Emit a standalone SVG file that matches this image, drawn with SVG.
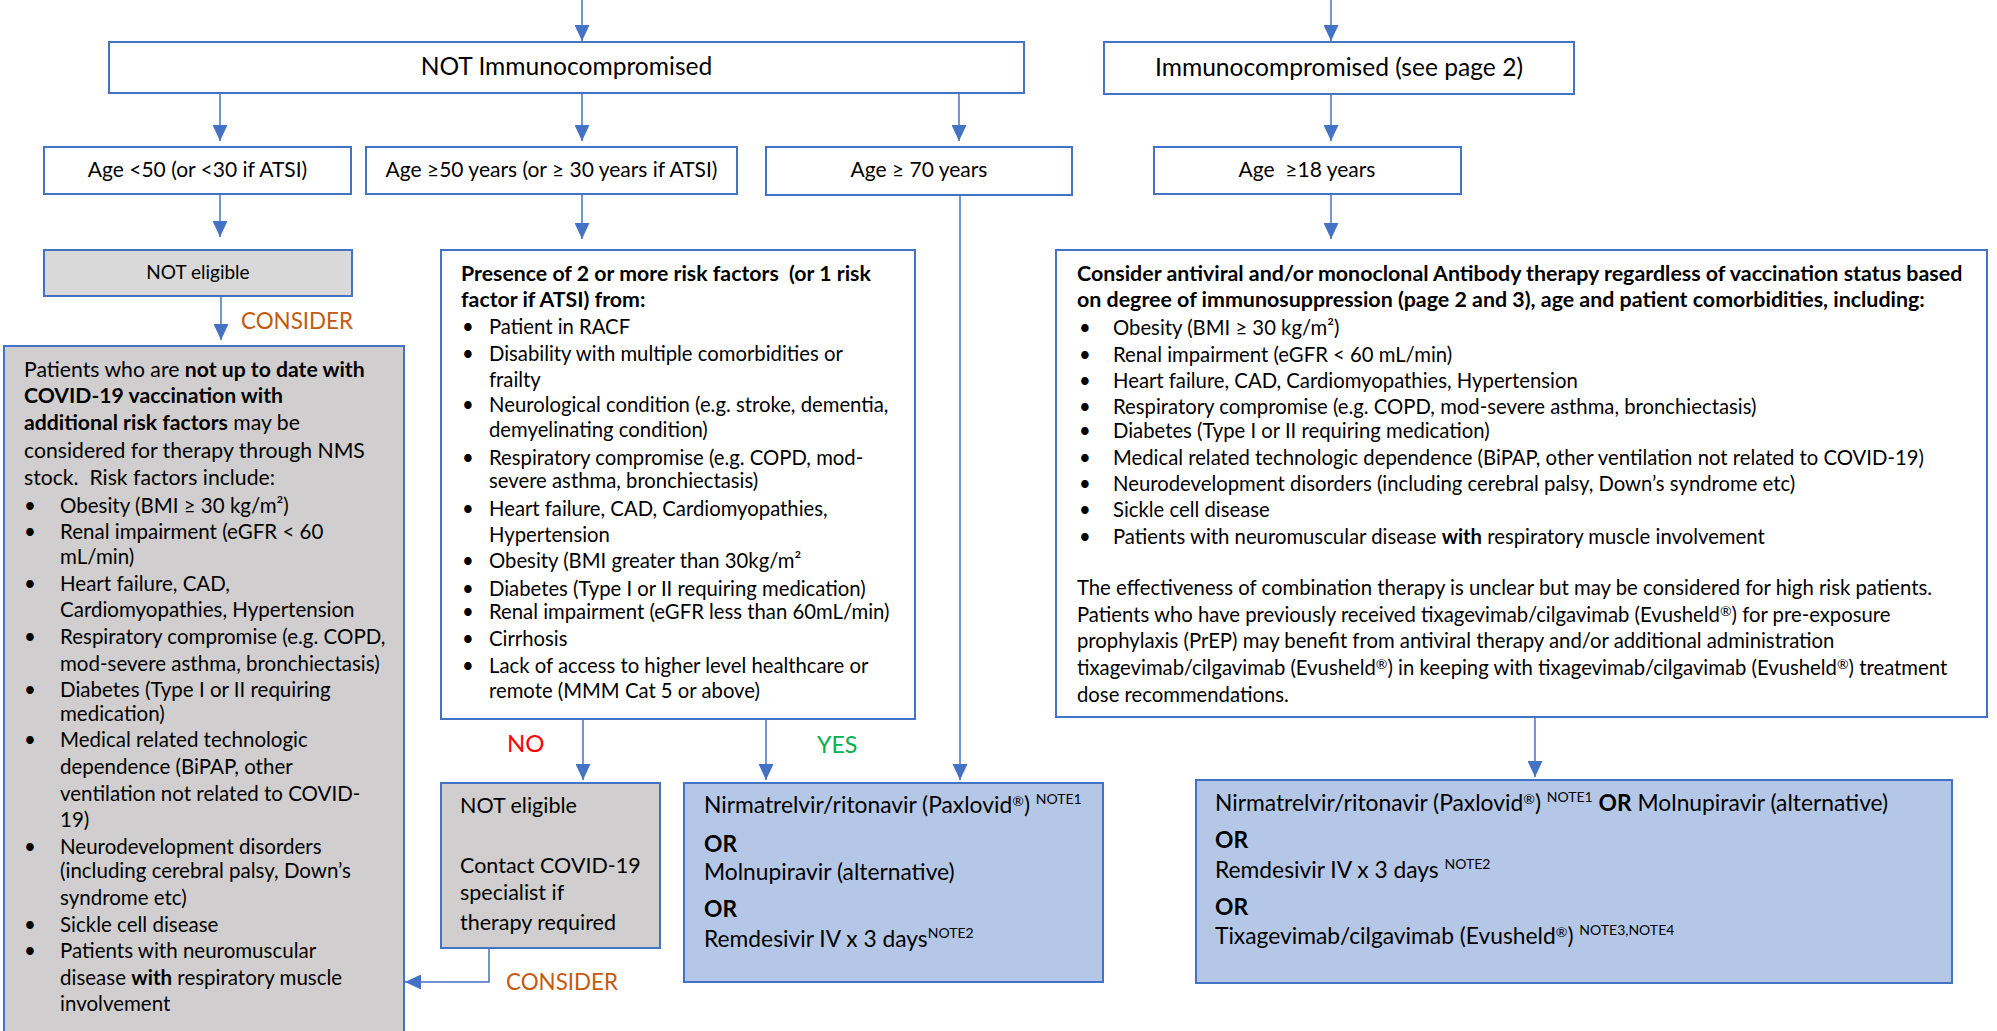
<svg xmlns="http://www.w3.org/2000/svg" width="1997" height="1031" viewBox="0 0 1997 1031">
<style>
.box{fill:#FFFFFF;stroke:#4472C4;stroke-width:2}
.grey{fill:#D9D9D9;stroke:#4472C4;stroke-width:2}
.grey2{fill:#D0CECE;stroke:#4472C4;stroke-width:2}
.blue{fill:#B4C7E7;stroke:#4472C4;stroke-width:2}
.conn{fill:none;stroke:#4472C4;stroke-width:1.5;marker-end:url(#ah)}
text{font-family:Lato,"Noto Sans",sans-serif;fill:#000}
.c{text-anchor:middle}
.b{font-weight:bold}
.lbox{font-size:20.5px}
.mbox{font-size:20.3px}
.mhead{font-size:21.3px;font-weight:bold}
.rbox{font-size:20.3px}
.rhead{font-size:21.4px;font-weight:bold}
.tx{font-size:22.8px}
.sup{font-size:14px}
.orange{fill:#C55A11;font-size:22.4px}
</style>
<defs>
<marker id="ah" markerUnits="userSpaceOnUse" markerWidth="16" markerHeight="15" refX="16" refY="7.5" orient="auto">
<path d="M0,0 L16,7.5 L0,15 z" fill="#4472C4"/>
</marker>
</defs>

<g id="connectors">
<path class="conn" d="M582,0 V41"/>
<path class="conn" d="M1331,0 V41"/>
<path class="conn" d="M220,93 V141"/>
<path class="conn" d="M582,93 V141"/>
<path class="conn" d="M959,93 V141"/>
<path class="conn" d="M1331,94 V141"/>
<path class="conn" d="M220,194 V237"/>
<path class="conn" d="M582,194 V239"/>
<path class="conn" d="M1331,194 V239"/>
<path class="conn" d="M221,296 V340"/>
<path class="conn" d="M583,719 V780"/>
<path class="conn" d="M766,719 V780"/>
<path class="conn" d="M960,195 V780"/>
<path class="conn" d="M1535,718 V777"/>
<path class="conn" d="M489,948 V982 H405"/>
<text x="241" y="329" class="orange">CONSIDER</text>
<text x="506" y="990" class="orange">CONSIDER</text>
<text x="507" y="752" style="fill:#FF0000;font-size:24px">NO</text>
<text x="817" y="753" style="fill:#00B050;font-size:23.2px">YES</text>
</g>

<g id="not-immuno">
<rect class="box" x="109" y="42" width="915" height="51"/>
<text x="566.5" y="75" class="c" font-size="24.6">NOT Immunocompromised</text>
</g>

<g id="immuno">
<rect class="box" x="1104" y="42" width="470" height="52"/>
<text x="1339" y="76" class="c" font-size="24.6">Immunocompromised (see page 2)</text>
</g>

<g id="age-lt50">
<rect class="box" x="44" y="147" width="307" height="47"/>
<text x="197.5" y="177" class="c" font-size="21">Age &lt;50 (or &lt;30 if ATSI)</text>
</g>

<g id="age-ge50">
<rect class="box" x="366" y="147" width="371" height="47"/>
<text x="551.5" y="177" class="c" font-size="21">Age ≥50 years (or ≥ 30 years if ATSI)</text>
</g>

<g id="age-ge70">
<rect class="box" x="766" y="147" width="306" height="48"/>
<text x="919" y="177" class="c" font-size="21">Age ≥ 70 years</text>
</g>

<g id="age-ge18">
<rect class="box" x="1154" y="147" width="307" height="47"/>
<text x="1307" y="177" class="c" font-size="21">Age &#160;≥18 years</text>
</g>

<g id="not-eligible-1">
<rect class="grey" x="44" y="250" width="308" height="46"/>
<text x="198" y="279" class="c" font-size="19">NOT eligible</text>
</g>

<g id="not-uptodate">
<rect class="grey2" x="4" y="346" width="400" height="700"/>
<g class="lbox">
<text x="24" y="377" font-size="21.2">Patients who are <tspan class="b">not up to date with</tspan></text>
<text x="24" y="403" font-size="21.2" class="b">COVID-19 vaccination with</text>
<text x="24" y="430" font-size="21.2"><tspan class="b">additional risk factors</tspan> may be</text>
<text x="24" y="458" font-size="21.2">considered for therapy through NMS</text>
<text x="24" y="485" font-size="21.2">stock. &#160;Risk factors include:</text>
<text x="24" y="513">•</text><text x="60" y="513">Obesity (BMI ≥ 30 kg/m²)</text>
<text x="24" y="539">•</text><text x="60" y="539">Renal impairment (eGFR &lt; 60</text>
<text x="60" y="564">mL/min)</text>
<text x="24" y="591">•</text><text x="60" y="591">Heart failure, CAD,</text>
<text x="60" y="617">Cardiomyopathies, Hypertension</text>
<text x="24" y="644">•</text><text x="60" y="644">Respiratory compromise (e.g. COPD,</text>
<text x="60" y="671">mod-severe asthma, bronchiectasis)</text>
<text x="24" y="697">•</text><text x="60" y="697">Diabetes (Type I or II requiring</text>
<text x="60" y="721">medication)</text>
<text x="24" y="747">•</text><text x="60" y="747">Medical related technologic</text>
<text x="60" y="774">dependence (BiPAP, other</text>
<text x="60" y="801">ventilation not related to COVID-</text>
<text x="60" y="827">19)</text>
<text x="24" y="854">•</text><text x="60" y="854">Neurodevelopment disorders</text>
<text x="60" y="878">(including cerebral palsy, Down’s</text>
<text x="60" y="905">syndrome etc)</text>
<text x="24" y="932">•</text><text x="60" y="932">Sickle cell disease</text>
<text x="24" y="958">•</text><text x="60" y="958">Patients with neuromuscular</text>
<text x="60" y="985">disease <tspan class="b">with</tspan> respiratory muscle</text>
<text x="60" y="1011">involvement</text>
</g>
</g>

<g id="risk-factors">
<rect class="box" x="441" y="250" width="474" height="469"/>
<g class="mbox">
<text x="461" y="281" class="mhead">Presence of 2 or more risk factors &#160;(or 1 risk</text>
<text x="461" y="307" class="mhead">factor if ATSI) from:</text>
<text x="462" y="334">•</text><text x="489" y="334">Patient in RACF</text>
<text x="462" y="361">•</text><text x="489" y="361">Disability with multiple comorbidities or</text>
<text x="489" y="387">frailty</text>
<text x="462" y="412">•</text><text x="489" y="412">Neurological condition (e.g. stroke, dementia,</text>
<text x="489" y="437">demyelinating condition)</text>
<text x="462" y="465">•</text><text x="489" y="465">Respiratory compromise (e.g. COPD, mod-</text>
<text x="489" y="488">severe asthma, bronchiectasis)</text>
<text x="462" y="516">•</text><text x="489" y="516">Heart failure, CAD, Cardiomyopathies,</text>
<text x="489" y="542">Hypertension</text>
<text x="462" y="568">•</text><text x="489" y="568">Obesity (BMI greater than 30kg/m²</text>
<text x="462" y="596">•</text><text x="489" y="596">Diabetes (Type I or II requiring medication)</text>
<text x="462" y="619">•</text><text x="489" y="619">Renal impairment (eGFR less than 60mL/min)</text>
<text x="462" y="646">•</text><text x="489" y="646">Cirrhosis</text>
<text x="462" y="673">•</text><text x="489" y="673">Lack of access to higher level healthcare or</text>
<text x="489" y="698">remote (MMM Cat 5 or above)</text>
</g>
</g>

<g id="immuno-therapy">
<rect class="box" x="1056" y="250" width="931" height="467"/>
<g class="rbox">
<text x="1077" y="281" class="rhead">Consider antiviral and/or monoclonal Antibody therapy regardless of vaccination status based</text>
<text x="1077" y="307" class="rhead">on degree of immunosuppression (page 2 and 3), age and patient comorbidities, including:</text>
<text x="1079" y="335">•</text><text x="1113" y="335">Obesity (BMI ≥ 30 kg/m²)</text>
<text x="1079" y="362">•</text><text x="1113" y="362">Renal impairment (eGFR &lt; 60 mL/min)</text>
<text x="1079" y="388">•</text><text x="1113" y="388">Heart failure, CAD, Cardiomyopathies, Hypertension</text>
<text x="1079" y="414">•</text><text x="1113" y="414">Respiratory compromise (e.g. COPD, mod-severe asthma, bronchiectasis)</text>
<text x="1079" y="438">•</text><text x="1113" y="438">Diabetes (Type I or II requiring medication)</text>
<text x="1079" y="465">•</text><text x="1113" y="465">Medical related technologic dependence (BiPAP, other ventilation not related to COVID-19)</text>
<text x="1079" y="491">•</text><text x="1113" y="491">Neurodevelopment disorders (including cerebral palsy, Down’s syndrome etc)</text>
<text x="1079" y="517">•</text><text x="1113" y="517">Sickle cell disease</text>
<text x="1079" y="544">•</text><text x="1113" y="544">Patients with neuromuscular disease <tspan class="b">with</tspan> respiratory muscle involvement</text>
<text x="1077" y="595">The effectiveness of combination therapy is unclear but may be considered for high risk patients.</text>
<text x="1077" y="622">Patients who have previously received tixagevimab/cilgavimab (Evusheld<tspan class="sup" dy="-6">®</tspan><tspan dy="6">) for pre-exposure</tspan></text>
<text x="1077" y="648">prophylaxis (PrEP) may benefit from antiviral therapy and/or additional administration</text>
<text x="1077" y="675">tixagevimab/cilgavimab (Evusheld<tspan class="sup" dy="-6">®</tspan><tspan dy="6">) in keeping with tixagevimab/cilgavimab (Evusheld</tspan><tspan class="sup" dy="-6">®</tspan><tspan dy="6">) treatment</tspan></text>
<text x="1077" y="702">dose recommendations.</text>
</g>
</g>

<g id="not-eligible-2">
<rect class="grey2" x="441" y="783" width="219" height="165"/>
<g font-size="21.5">
<text x="460" y="813">NOT eligible</text>
<text x="460" y="873">Contact COVID-19</text>
<text x="460" y="900">specialist if</text>
<text x="460" y="930">therapy required</text>
</g>
</g>

<g id="treatment-1">
<rect class="blue" x="684" y="783" width="419" height="199"/>
<g class="tx">
<text x="704" y="813">Nirmatrelvir/ritonavir (Paxlovid<tspan class="sup" dy="-7">®</tspan><tspan dy="7">) </tspan><tspan class="sup" dy="-9">NOTE1</tspan></text>
<text x="704" y="852" class="b">OR</text>
<text x="704" y="880">Molnupiravir (alternative)</text>
<text x="704" y="917" class="b">OR</text>
<text x="704" y="947">Remdesivir IV x 3 days<tspan class="sup" dy="-9">NOTE2</tspan></text>
</g>
</g>

<g id="treatment-2">
<rect class="blue" x="1196" y="780" width="756" height="203"/>
<g class="tx">
<text x="1215" y="811">Nirmatrelvir/ritonavir (Paxlovid<tspan class="sup" dy="-7">®</tspan><tspan dy="7">) </tspan><tspan class="sup" dy="-9">NOTE1</tspan><tspan dy="9"> </tspan><tspan class="b">OR</tspan> Molnupiravir (alternative)</text>
<text x="1215" y="848" class="b">OR</text>
<text x="1215" y="878">Remdesivir IV x 3 days <tspan class="sup" dy="-9">NOTE2</tspan></text>
<text x="1215" y="915" class="b">OR</text>
<text x="1215" y="944">Tixagevimab/cilgavimab (Evusheld<tspan class="sup" dy="-7">®</tspan><tspan dy="7">) </tspan><tspan class="sup" dy="-9">NOTE3,NOTE4</tspan></text>
</g>
</g>
</svg>
